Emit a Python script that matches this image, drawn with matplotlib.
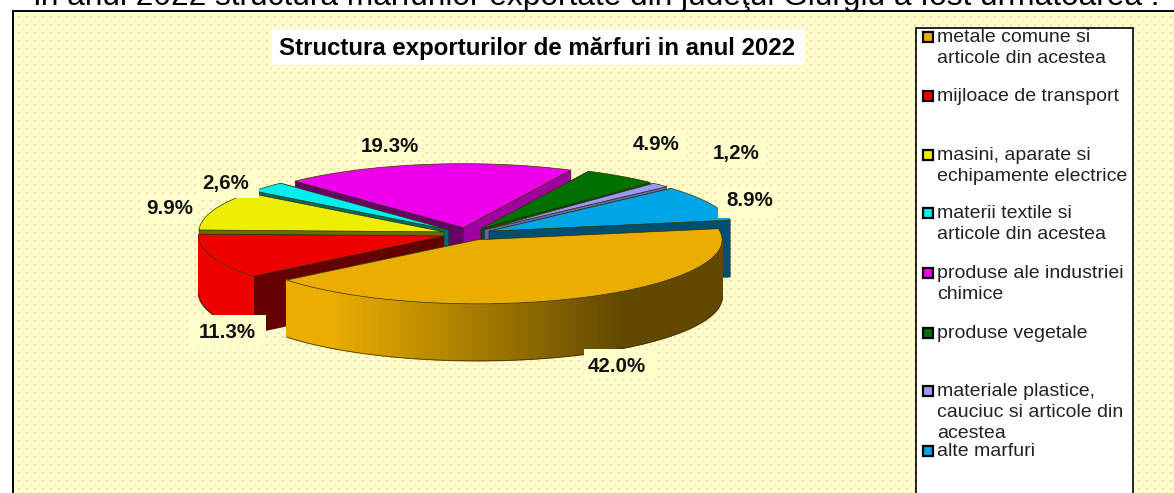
import numpy as np
import matplotlib
matplotlib.use('Agg')
import matplotlib.pyplot as plt
from matplotlib.patches import Polygon, Rectangle

plt.rcParams['font.family'] = ['Liberation Sans', 'DejaVu Sans']

# values as printed on the chart, clockwise from the gold slice
shares = [42.0, 11.3, 9.9, 2.6, 19.3, 4.9, 1.2, 8.9]
value_labels = ['42.0%', '11.3%', '9.9%', '2,6%', '19.3%', '4.9%', '1,2%', '8.9%']
legend_labels = ['metale comune si\narticole din acestea', 'mijloace de transport',
                 'masini, aparate si\nechipamente electrice', 'materii textile si\narticole din acestea',
                 'produse ale industriei\nchimice', 'produse vegetale',
                 'materiale plastice,\ncauciuc si articole din\nacestea', 'alte marfuri']
colors = ['#EBAE00', '#EE0000', '#EEEE00', '#00EEEE', '#EE00EE', '#007000', '#9999FF', '#00A5E6']
face_colors = ['#6B5000', '#660000', '#6B6B00', '#006B6B', '#660066', '#003300', '#46467A', '#004F70']
face_colors2 = ['#6B5000', '#660000', '#6B6B00', '#006B6B', '#A000A0', '#004D00', '#6666AA', '#004F70']

W, H = 1174, 493
BG = '#FFFFCC'
fig = plt.figure(figsize=(W / 100, H / 100), dpi=100)
ax = fig.add_axes([0, 0, 1, 1])
ax.set_xlim(0, W)
ax.set_ylim(H, 0)
ax.axis('off')

# chart area with the dotted texture
ax.add_patch(Rectangle((13, 11), W, H, fc=BG, ec='black', lw=1.4, zorder=1))
dx, dy = np.meshgrid(np.arange(19, W, 8), np.arange(17, H, 8))
ax.scatter(dx, dy, s=2.4, c='#FFD2A6', marker='s', lw=0, zorder=1.1)
ax.scatter(dx + 4, dy + 4, s=1.0, c='#FFE0B8', marker='s', lw=0, zorder=1.1)

ax.text(33, 5, 'În anul 2022 structura mărfurilor exportate din judeţul Giurgiu a fost următoarea :',
        fontsize=22.8, color='black', va='baseline', ha='left', zorder=0.5)

# title
ax.add_patch(Rectangle((271, 29), 533, 36, fc='white', ec='none', zorder=2))
ax.text(537, 48, 'Structura exporturilor de mărfuri in anul 2022', fontsize=17.3, fontweight='bold',
        ha='center', va='center', zorder=3)

# pie geometry in pixels
cx, cy = 467, 234
rx, ry = 245, 64
depth = 57
explode = 0.1
start = 10


def rim(ox, oy, t):
    return ox + rx * np.cos(t), oy - ry * np.sin(t)


def wall_shade(x):
    return np.clip(1 - 0.58 * (x - 330) / 290, 0.42, 1)


def draw_slice(i, t1, t2):
    tm = np.radians((t1 + t2) / 2)
    ox = cx + explode * rx * np.cos(tm)
    oy = cy - explode * ry * np.sin(tm)
    a1, a2 = np.radians(t1), np.radians(t2)
    ts = np.linspace(a1, a2, 80)
    xs, ys = rim(ox, oy, ts)
    # cut faces, far one first
    faces = []
    for a, c in ((a1, face_colors[i]), (a2, face_colors2[i])):
        ex, ey = rim(ox, oy, a)
        faces.append((ey, [(ox, oy), (ex, ey), (ex, ey + depth), (ox, oy + depth)], c))
    faces.sort(key=lambda f: f[0])
    for f in faces:
        ax.add_patch(Polygon(f[1], fc=f[2], ec='#222222', lw=0.3, zorder=4))
    # outer wall, only the front half shows
    base = np.array(matplotlib.colors.to_rgb(colors[i]))
    for j in range(len(ts) - 1):
        if np.sin((ts[j] + ts[j + 1]) / 2) > 0:
            continue
        quad = [(xs[j], ys[j]), (xs[j + 1], ys[j + 1]), (xs[j + 1], ys[j + 1] + depth), (xs[j], ys[j] + depth)]
        shade = base * wall_shade((xs[j] + xs[j + 1]) / 2)
        ax.add_patch(Polygon(quad, fc=shade, ec=shade, lw=1.0, zorder=4))
    ax.plot(xs[np.sin(ts) <= 0], ys[np.sin(ts) <= 0] + depth, color='#333300', lw=0.5, zorder=4)
    # top
    top = np.column_stack([np.r_[ox, xs], np.r_[oy, ys]])
    ax.add_patch(Polygon(top, fc=colors[i], ec='#333300', lw=0.5, zorder=4))


edges = start - np.cumsum(np.r_[0, shares]) * 360 / sum(shares)
for i in [4, 5, 6, 7, 3, 2, 1, 0]:
    draw_slice(i, edges[i], edges[i + 1])

# value labels sit on boxes in the background colour, which bite into the pie
label_pos = [(617, 367), (227, 333), (170, 209), (226, 184), (390, 147), (656, 145), (736, 154), (750, 201)]
label_boxes = [(584, 349, 72, 30), (190, 315, 76, 34), (140, 196, 56, 26), (198, 170, 61, 28),
               (358, 134, 64, 26), (628, 132, 58, 26), (708, 141, 56, 26), (718, 188, 60, 30)]
for s, (x, y), b in zip(value_labels, label_pos, label_boxes):
    ax.add_patch(Rectangle((b[0], b[1]), b[2], b[3], fc=BG, ec='none', zorder=5))
    ax.text(x, y, s, fontsize=14.8, fontweight='bold', ha='center', va='center', zorder=6, color='#111111')

# legend
ax.add_patch(Rectangle((916, 28), 217, 480, fc='white', ec='black', lw=1.2, zorder=2))
legend_y = [37, 96, 155, 213, 273, 333, 391, 451]
for s, c, y in zip(legend_labels, colors, legend_y):
    ax.add_patch(Rectangle((923, y - 5), 10, 10, fc=c, ec='black', lw=1.6, zorder=3))
    ax.text(937, y - 8, s, fontsize=14, color='#222222', va='top', ha='left', linespacing=1.3, zorder=3)

fig.savefig('out.png', dpi=100)
